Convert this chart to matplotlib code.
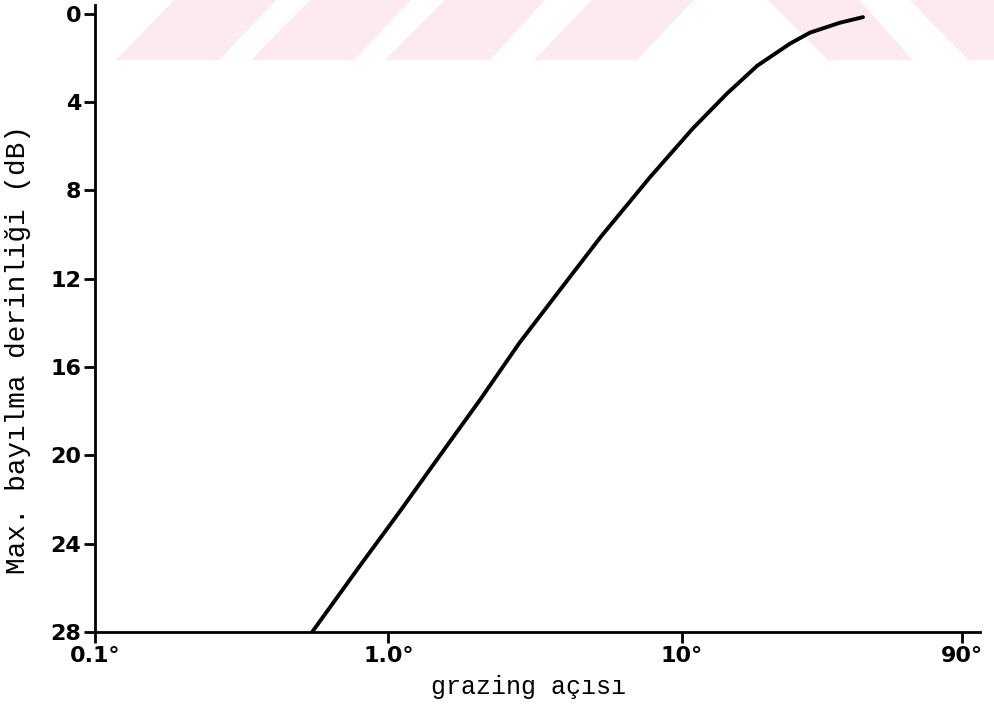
from matplotlib import pyplot as plt
from matplotlib.patches import Polygon
import matplotlib.ticker as ticker

# grazing angle (degrees) and max fading depth (dB)
angle = [0.55, 0.8, 1.1, 1.5, 2.05, 2.8, 3.85, 5.3, 7.8, 10.9,
         14.3, 18.1, 23.4, 27.4, 34.7, 41.5]
depth = [28.0, 25.0, 22.5, 20.0, 17.5, 14.9, 12.5, 10.1, 7.4, 5.2,
         3.6, 2.35, 1.35, 0.85, 0.4, 0.15]

x_ticks = [0.1, 1.0, 10, 90]
x_tick_labels = ['0.1°', '1.0°', '10°', '90°']
y_ticks = [0, 4, 8, 12, 16, 20, 24, 28]

W, H = 995, 707
fig = plt.figure(figsize=(W / 100, H / 100), dpi=100)

# faint watermark stripes at the top
stripes = [
    [(116, 60), (219, 60), (276, 0), (174, 0)],
    [(251, 60), (354, 60), (411, 0), (310, 0)],
    [(385, 60), (490, 60), (545, 0), (445, 0)],
    [(534, 60), (637, 60), (694, 0), (592, 0)],
    [(828, 60), (913, 60), (859, 0), (768, 0)],
    [(968, 60), (995, 60), (995, 0), (910, 0)],
]
for s in stripes:
    pts = [(px / W, 1 - py / H) for px, py in s]
    fig.patches.append(Polygon(pts, closed=True, transform=fig.transFigure,
                               facecolor='#fdeaee', edgecolor='none', zorder=0))

ax = fig.add_axes([95 / W, 1 - 632 / H, (980 - 95) / W, (632 - 5) / H])
ax.set_zorder(2)
ax.patch.set_alpha(0)

ax.plot(angle, depth, color='black', linewidth=2.8,
        solid_capstyle='round', solid_joinstyle='round')

ax.set_xscale('log')
ax.set_xlim(0.1, 104)
ax.set_ylim(28, -0.4)

ax.spines['top'].set_visible(False)
ax.spines['right'].set_visible(False)
ax.spines['left'].set_linewidth(2)
ax.spines['bottom'].set_linewidth(2)

ax.xaxis.set_major_locator(ticker.FixedLocator(x_ticks))
ax.xaxis.set_minor_locator(ticker.NullLocator())
ax.set_xticklabels(x_tick_labels)
ax.set_yticks(y_ticks)

for lab in ax.get_xticklabels() + ax.get_yticklabels():
    lab.set_family('DejaVu Sans')
    lab.set_fontsize(16)
    lab.set_fontweight('bold')

ax.tick_params(axis='both', direction='out', width=2, length=8, pad=2)

ax.set_xlabel('grazing açısı', family='Liberation Mono', fontsize=18)
ax.xaxis.set_label_coords(0.49, -0.068)
ax.set_ylabel('Max. bayılma derinliği (dB)', family='Liberation Mono', fontsize=20)
ax.yaxis.set_label_coords(-0.072, 0.45)

plt.savefig('out.png', dpi=100)
